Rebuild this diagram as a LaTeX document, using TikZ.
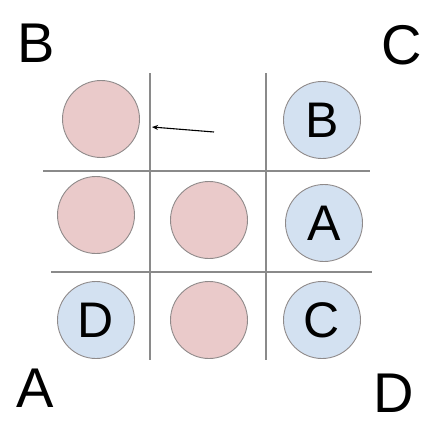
\documentclass[tikz,border=0pt]{standalone}
\usepackage{fontspec}
\setmainfont{Liberation Sans}
\usetikzlibrary{arrows.meta}
\definecolor{pinkfill}{HTML}{EACACA}
\definecolor{bluefill}{HTML}{D3E1F1}
\definecolor{ringgrey}{HTML}{8F8A8A}
\definecolor{gridgrey}{HTML}{8A8A8A}
\begin{document}
\begin{tikzpicture}[x=1pt,y=-1pt,
  disc/.style={circle,draw=ringgrey,line width=0.9pt,minimum size=77pt,inner sep=0pt,font=\fontsize{50}{60}\selectfont},
  pinkdisc/.style={disc,fill=pinkfill},
  bluedisc/.style={disc,fill=bluefill},
  corner/.style={anchor=base,inner sep=0pt,font=\fontsize{56}{66}\selectfont},
  gridline/.style={draw=gridgrey,line width=1.3pt}]
\useasboundingbox (0,0) rectangle (438,428);
% grid
\coordinate (v1t) at (150,73);  \coordinate (v1b) at (150,360);
\coordinate (v2t) at (266,73);  \coordinate (v2b) at (266,360);
\coordinate (h1l) at (43,171);  \coordinate (h1r) at (370,171);
\coordinate (h2l) at (51,272);  \coordinate (h2r) at (372,272);
\draw[gridline] (v1t) -- (v1b);
\draw[gridline] (v2t) -- (v2b);
\draw[gridline] (h1l) -- (h1r);
\draw[gridline] (h2l) -- (h2r);
% discs
\node[pinkdisc] (p11) at (101,119) {};
\node[bluedisc] (b13) at (322,120) {B};
\node[pinkdisc] (p21) at (96,215) {};
\node[pinkdisc] (p22) at (209,220) {};
\node[bluedisc] (b23) at (324,223) {A};
\node[bluedisc] (b31) at (96,320) {D};
\node[pinkdisc] (p32) at (209,320) {};
\node[bluedisc] (b33) at (322,320) {C};
% arrow
\coordinate (atail) at (214,132);
\coordinate (ahead) at (152,127);
\draw[line width=1.1pt,-{Stealth[length=6pt,width=5pt]}] (atail) -- (ahead);
% corner labels
\node[corner] (lB) at (36,63) {B};
\node[corner] (lC) at (402,64) {C};
\node[corner] (lA) at (35,407) {A};
\node[corner] (lD) at (394,412) {D};
\end{tikzpicture}
\end{document}
